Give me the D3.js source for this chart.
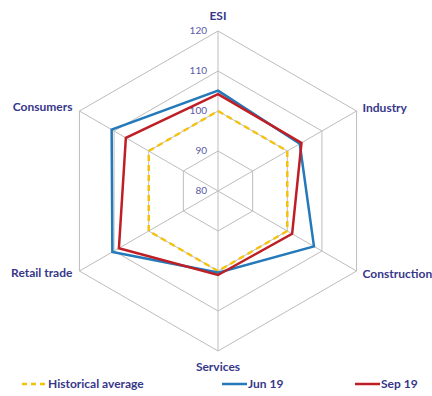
<!DOCTYPE html>
<html>
<head>
<meta charset="utf-8">
<script src="https://cdn.jsdelivr.net/npm/d3@7"></script>
<style>
  body { margin: 0; background: #fff; }
  svg { display: block; }
  text { font-family: Lato, "Open Sans", sans-serif; }
</style>
</head>
<body>
<svg id="chart" width="432" height="396"></svg>
<script>
// axes clockwise from the top
const categories = ['ESI', 'Industry', 'Construction', 'Services', 'Retail trade', 'Consumers'];
const tickValues = [80, 90, 100, 110, 120];

const historicalAverage = [100, 100, 100, 100, 100, 100];
const jun19 = [105.1, 103.6, 107.7, 100.4, 110.5, 110.7];
const sep19 = [104.2, 104.1, 101.4, 101.0, 108.6, 106.6];

const series = [
	{ name: 'Historical average', values: historicalAverage, color: '#f4c20d', dash: '6,4' },
	{ name: 'Jun 19', values: jun19, color: '#2379b9', dash: null },
	{ name: 'Sep 19', values: sep19, color: '#bf1e24', dash: null },
];

const labelColor = '#37378a';
const cx = 218, cy = 191;

const svg = d3.select('#chart');

const r = d3.scaleLinear().domain([80, 120]).range([0, 160]);
const angle = d3.scaleLinear().domain([0, categories.length]).range([0, 2 * Math.PI]);

function point(i, v) {
	const a = angle(i);
	return [cx + r(v) * Math.sin(a), cy - r(v) * Math.cos(a)];
}

const line = d3.line().curve(d3.curveLinearClosed);

// grid rings
const grid = svg.append('g').attr('class', 'grid');

grid.selectAll('path.ring')
	.data(tickValues.slice(1))
	.enter()
	.append('path')
	.attr('class', 'ring')
	.attr('d', v => line(categories.map((c, i) => point(i, v))))
	.attr('fill', 'none')
	.attr('stroke', '#bdbdbd')
	.attr('stroke-width', 1);

grid.selectAll('line.spoke')
	.data(categories)
	.enter()
	.append('line')
	.attr('class', 'spoke')
	.attr('x1', cx)
	.attr('y1', cy)
	.attr('x2', (d, i) => point(i, 120)[0])
	.attr('y2', (d, i) => point(i, 120)[1])
	.attr('stroke', '#bdbdbd')
	.attr('stroke-width', 1);

// tick labels along the ESI axis
svg.append('g')
	.selectAll('text')
	.data(tickValues)
	.enter()
	.append('text')
	.attr('x', cx - 11)
	.attr('y', v => cy - r(v) + 3)
	.attr('text-anchor', 'end')
	.attr('fill', '#5a5aa6')
	.style('font-size', '10px')
	.text(d => d);

// series
svg.append('g')
	.selectAll('path')
	.data(series)
	.enter()
	.append('path')
	.attr('d', s => line(s.values.map((v, i) => point(i, v))))
	.attr('fill', 'none')
	.attr('stroke', s => s.color)
	.attr('stroke-width', 2.5)
	.attr('stroke-linejoin', 'miter')
	.attr('stroke-dasharray', s => s.dash);

// category labels
const labelPos = [
	{ dx: 0, dy: -11, anchor: 'middle' },
	{ dx: 6, dy: 1, anchor: 'start' },
	{ dx: 6, dy: 7, anchor: 'start' },
	{ dx: 0, dy: 20, anchor: 'middle' },
	{ dx: -7, dy: 6, anchor: 'end' },
	{ dx: -7, dy: 0, anchor: 'end' },
];

svg.append('g')
	.selectAll('text')
	.data(categories)
	.enter()
	.append('text')
	.attr('x', (d, i) => point(i, 120)[0] + labelPos[i].dx)
	.attr('y', (d, i) => point(i, 120)[1] + labelPos[i].dy)
	.attr('text-anchor', (d, i) => labelPos[i].anchor)
	.attr('fill', labelColor)
	.style('font-size', '12px')
	.style('font-weight', 'bold')
	.text(d => d);

// legend
const legendX = [22, 222, 355];
const legend = svg.append('g')
	.selectAll('g')
	.data(series)
	.enter()
	.append('g')
	.attr('transform', (d, i) => 'translate(' + legendX[i] + ',384)');

legend.append('line')
	.attr('x1', 0)
	.attr('x2', 25)
	.attr('y1', 0)
	.attr('y2', 0)
	.attr('stroke', d => d.color)
	.attr('stroke-width', 2.5)
	.attr('stroke-dasharray', d => d.dash ? '5,4' : null);

legend.append('text')
	.attr('x', 26)
	.attr('y', 4)
	.attr('fill', labelColor)
	.style('font-size', '12px')
	.style('font-weight', 'bold')
	.text(d => d.name);
</script>
</body>
</html>
